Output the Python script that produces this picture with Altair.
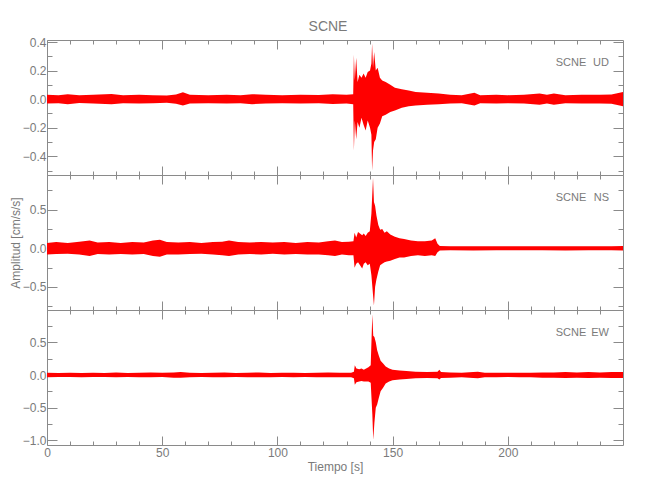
import altair as alt
import pandas as pd

# ---------------- data (envelope of the traces) ----------------
UD_T = [0, 5, 9, 14, 20, 28, 33, 40, 46, 52, 56, 59, 62, 70, 78, 84, 89, 95, 102, 110, 118, 124, 130, 132.9,
        133.2, 133.6, 134.2, 134.8, 135.6, 136.5, 137.4, 138.3, 139.2, 140.2, 140.8, 141.1, 141.5, 142.0, 142.7,
        143.5, 144.5, 145.5, 147, 149, 151, 154, 157, 160, 165, 170, 175, 180, 185.5, 188, 195, 200, 207, 213.8,
        217, 220, 225, 232, 240, 245, 250]
UD_UP = [0.03, 0.028, 0.035, 0.027, 0.03, 0.036, 0.028, 0.03, 0.028, 0.025, 0.032, 0.048, 0.03, 0.028, 0.03, 0.028,
         0.035, 0.03, 0.028, 0.03, 0.029, 0.034, 0.03, 0.035,
         0.31, 0.13, 0.29, 0.12, 0.17, 0.15, 0.18, 0.15, 0.19, 0.20, 0.25, 0.39, 0.22, 0.33, 0.20,
         0.22, 0.15, 0.13, 0.12, 0.10, 0.08, 0.07, 0.06, 0.05, 0.045, 0.04, 0.03, 0.028, 0.045, 0.028, 0.03, 0.028,
         0.03, 0.04, 0.03, 0.04, 0.028, 0.03, 0.03, 0.032, 0.05]
UD_LO = [-0.03, -0.028, -0.035, -0.027, -0.03, -0.036, -0.028, -0.03, -0.028, -0.025, -0.032, -0.045, -0.03, -0.028,
         -0.03, -0.028, -0.035, -0.03, -0.028, -0.03, -0.029, -0.034, -0.03, -0.035,
         -0.36, -0.15, -0.28, -0.16, -0.20, -0.13, -0.18, -0.22, -0.15, -0.20, -0.25, -0.50, -0.36, -0.30, -0.28,
         -0.20, -0.17, -0.12, -0.11, -0.09, -0.08, -0.06, -0.05, -0.045, -0.04, -0.035, -0.03, -0.028, -0.045,
         -0.028, -0.03, -0.028, -0.03, -0.04, -0.03, -0.04, -0.028, -0.03, -0.03, -0.032, -0.05]

NS_T = [0, 4, 9, 14, 18.5, 22, 27, 32, 37, 42, 46, 49, 52, 57, 62, 67, 72, 76, 79, 83, 88, 93, 98, 103, 108, 113,
        118, 122, 125, 128, 131, 133, 133.5, 134.2, 135, 136.8, 137.5, 138.3, 139.2, 140.1, 140.8, 141.5, 141.9,
        142.4, 143, 143.8, 144.6, 145.5, 146.5, 147.5, 149, 151, 153, 155, 158, 161, 164, 167, 168.5, 169.5, 170.5,
        175, 185, 195, 205, 215, 225, 235, 245, 250]
NS_UP = [0.07, 0.08, 0.07, 0.085, 0.10, 0.075, 0.08, 0.07, 0.08, 0.075, 0.10, 0.11, 0.08, 0.075, 0.08, 0.07, 0.08,
         0.085, 0.10, 0.08, 0.075, 0.08, 0.075, 0.08, 0.07, 0.08, 0.075, 0.09, 0.10, 0.08, 0.085, 0.09,
         0.20, 0.14, 0.21, 0.17, 0.19, 0.16, 0.20, 0.22, 0.45, 0.91, 0.60, 0.55, 0.42, 0.30, 0.24, 0.25, 0.20,
         0.22, 0.18, 0.15, 0.13, 0.12, 0.10, 0.09, 0.09, 0.10, 0.13, 0.06, 0.03,
         0.025, 0.027, 0.025, 0.026, 0.025, 0.027, 0.025, 0.026, 0.03]
NS_LO = [-0.08, -0.075, -0.07, -0.08, -0.10, -0.075, -0.08, -0.075, -0.08, -0.075, -0.10, -0.11, -0.08, -0.08,
         -0.075, -0.07, -0.08, -0.09, -0.10, -0.08, -0.075, -0.08, -0.07, -0.08, -0.075, -0.08, -0.08, -0.09,
         -0.10, -0.08, -0.09, -0.09,
         -0.25, -0.20, -0.18, -0.26, -0.20, -0.18, -0.22, -0.20, -0.35, -0.60, -0.74, -0.50, -0.40, -0.30, -0.22,
         -0.20, -0.18, -0.17, -0.16, -0.14, -0.12, -0.12, -0.10, -0.09, -0.10, -0.09, -0.10, -0.05, -0.03,
         -0.025, -0.027, -0.025, -0.026, -0.025, -0.027, -0.025, -0.026, -0.03]

EW_T = [0, 5, 10, 15, 20, 25, 30, 35, 40, 45, 50, 55, 58, 62, 67, 72, 77, 82, 87, 92, 97, 102, 107, 112, 117, 122,
        127, 132, 133.2, 133.6, 134.3, 135.5, 136.5, 137.5, 138.5, 139.5, 140.5, 141.2, 141.6, 142.1, 142.7, 143.3,
        144, 144.8, 145.8, 147, 148.5, 150, 153, 156, 160, 165, 169.5, 170.3, 171, 175, 180, 185, 187, 190, 195, 200,
        205, 210, 215, 220, 225, 230, 235, 240, 245, 250]
EW_UP = [0.035, 0.03, 0.035, 0.03, 0.035, 0.03, 0.04, 0.03, 0.035, 0.04, 0.035, 0.04, 0.045, 0.035, 0.03, 0.035,
         0.04, 0.03, 0.035, 0.04, 0.03, 0.035, 0.035, 0.03, 0.035, 0.04, 0.035, 0.035,
         0.05, 0.15, 0.10, 0.09, 0.10, 0.08, 0.10, 0.12, 0.15, 0.93, 0.60, 0.58, 0.50, 0.38, 0.30, 0.22, 0.18,
         0.13, 0.10, 0.08, 0.07, 0.06, 0.05, 0.045, 0.05, 0.08, 0.045, 0.04, 0.035, 0.045, 0.05, 0.035, 0.035,
         0.035, 0.035, 0.035, 0.04, 0.04, 0.045, 0.04, 0.045, 0.04, 0.045, 0.045]
EW_LO = [-0.035, -0.03, -0.03, -0.035, -0.03, -0.03, -0.035, -0.03, -0.035, -0.035, -0.03, -0.04, -0.04, -0.035,
         -0.03, -0.035, -0.035, -0.03, -0.035, -0.035, -0.035, -0.03, -0.035, -0.03, -0.035, -0.035, -0.035, -0.035,
         -0.05, -0.15, -0.11, -0.10, -0.09, -0.10, -0.10, -0.10, -0.12, -0.60, -0.99, -0.73, -0.50, -0.45, -0.35,
         -0.25, -0.20, -0.13, -0.10, -0.08, -0.07, -0.06, -0.05, -0.045, -0.05, -0.07, -0.045, -0.04, -0.035,
         -0.045, -0.05, -0.035, -0.035, -0.03, -0.035, -0.035, -0.04, -0.04, -0.045, -0.04, -0.045, -0.04, -0.045,
         -0.045]

X_DOMAIN = [0, 250]
X_MAJOR = [0, 50, 100, 150, 200]
X_MINOR = [10, 20, 30, 40, 60, 70, 80, 90, 110, 120, 130, 140, 160, 170, 180, 190, 210, 220, 230, 240]

UD_DOMAIN = [-0.531, 0.414]
UD_MAJOR = [-0.4, -0.2, 0.0, 0.2, 0.4]
UD_MINOR = [-0.5, -0.3, -0.1, 0.1, 0.3]
NS_DOMAIN = [-0.798, 0.948]
NS_MAJOR = [-0.5, 0.0, 0.5]
NS_MINOR = [-0.75, -0.25, 0.25, 0.75]
EW_DOMAIN = [-1.07, 0.994]
EW_MAJOR = [-1.0, -0.5, 0.0, 0.5]
EW_MINOR = [-0.75, -0.25, 0.25, 0.75]

STATION = "SCNE"
COMPONENTS = ["UD", "NS", "EW"]
TITLE = "SCNE"
X_TITLE = "Tiempo [s]"
Y_TITLE = "Amplitud [cm/s/s]"

# ---------------- style ----------------
W, H = 576, 135
GRAY = "#8a8a8a"
TXT = "#7a7a7a"
RED = "#ff0000"
FONT = "Liberation Sans"


def tick_axis(orient, offset, values, size):
    return alt.Axis(orient=orient, offset=offset, values=values, tickSize=size, ticks=True,
                    labels=False, domain=False, grid=False, title=None, tickColor=GRAY, tickWidth=1)


def panel(t, up, lo, ydom, ymajor, yminor, comp, bottom=False, ytitle=None, title=None):
    df = pd.DataFrame({"t": t, "up": up, "lo": lo})
    xs = alt.Scale(domain=X_DOMAIN, nice=False, zero=False)
    ys = alt.Scale(domain=ydom, nice=False, zero=False)

    if bottom:
        xlab = alt.Axis(orient="bottom", values=X_MAJOR, format="d", ticks=False, tickSize=0, domain=False,
                        grid=False, labelPadding=2, labelFont=FONT, labelFontSize=12, labelColor=TXT,
                        labelFlush=False, title=X_TITLE, titleFont=FONT, titleFontSize=12,
                        titleFontWeight="normal", titleColor=TXT, titlePadding=3)
    else:
        xlab = None
    ylab = alt.Axis(orient="left", values=ymajor, format=".1f", ticks=False, tickSize=0, domain=False,
                    grid=False, labelPadding=1, labelFont=FONT, labelFontSize=12, labelColor=TXT,
                    labelFlush=False, labelOverlap=False,
                    title=ytitle, titleFont=FONT, titleFontSize=12, titleFontWeight="normal",
                    titleColor=TXT, titlePadding=0)

    base = alt.Chart(df)
    area = base.mark_area(color=RED, interpolate="linear", opacity=1).encode(
        x=alt.X("t:Q", scale=xs, axis=xlab),
        y=alt.Y("up:Q", scale=ys, axis=ylab),
        y2="lo:Q",
    )
    # tick-only axes pointing inward on all four edges
    inv = []
    specs = [
        (tick_axis("bottom", -H, X_MAJOR, 9), tick_axis("right", -W, ymajor, 10)),
        (tick_axis("bottom", -H, X_MINOR, 4), tick_axis("right", -W, yminor, 5)),
        (tick_axis("top", -H, X_MAJOR, 9), tick_axis("left", -W, ymajor, 10)),
        (tick_axis("top", -H, X_MINOR, 4), tick_axis("left", -W, yminor, 5)),
    ]
    for ax_x, ax_y in specs:
        inv.append(base.mark_point(opacity=0).encode(
            x=alt.X("t:Q", scale=xs, axis=ax_x),
            y=alt.Y("up:Q", scale=ys, axis=ax_y),
        ))
    lab1 = alt.Chart(pd.DataFrame({"s": [STATION]})).mark_text(
        align="center", baseline="alphabetic", font=FONT, fontSize=11, color=TXT
    ).encode(text="s:N", x=alt.value(524), y=alt.value(26))
    lab2 = alt.Chart(pd.DataFrame({"s": [comp]})).mark_text(
        align="right", baseline="alphabetic", font=FONT, fontSize=11, color=TXT
    ).encode(text="s:N", x=alt.value(562), y=alt.value(26))

    ch = alt.layer(area, *inv, lab1, lab2).resolve_axis(x="independent", y="independent")
    props = dict(width=W, height=H)
    if title is not None:
        props["title"] = alt.TitleParams(title, font=FONT, fontSize=14, fontWeight="normal", color=TXT,
                                         anchor="middle", dx=-7, offset=2)
    return ch.properties(**props)


p1 = panel(UD_T, UD_UP, UD_LO, UD_DOMAIN, UD_MAJOR, UD_MINOR, COMPONENTS[0], title=TITLE)
p2 = panel(NS_T, NS_UP, NS_LO, NS_DOMAIN, NS_MAJOR, NS_MINOR, COMPONENTS[1], ytitle=Y_TITLE)
p3 = panel(EW_T, EW_UP, EW_LO, EW_DOMAIN, EW_MAJOR, EW_MINOR, COMPONENTS[2], bottom=True)

chart = alt.vconcat(p1, p2, p3, spacing=0, bounds="flush").properties(
    padding={"left": 0, "top": 11, "right": 5, "bottom": 5}, background="white"
).configure_view(stroke=GRAY, strokeWidth=1)

chart.save("out.html", embed_options={"renderer": "svg", "actions": False})
